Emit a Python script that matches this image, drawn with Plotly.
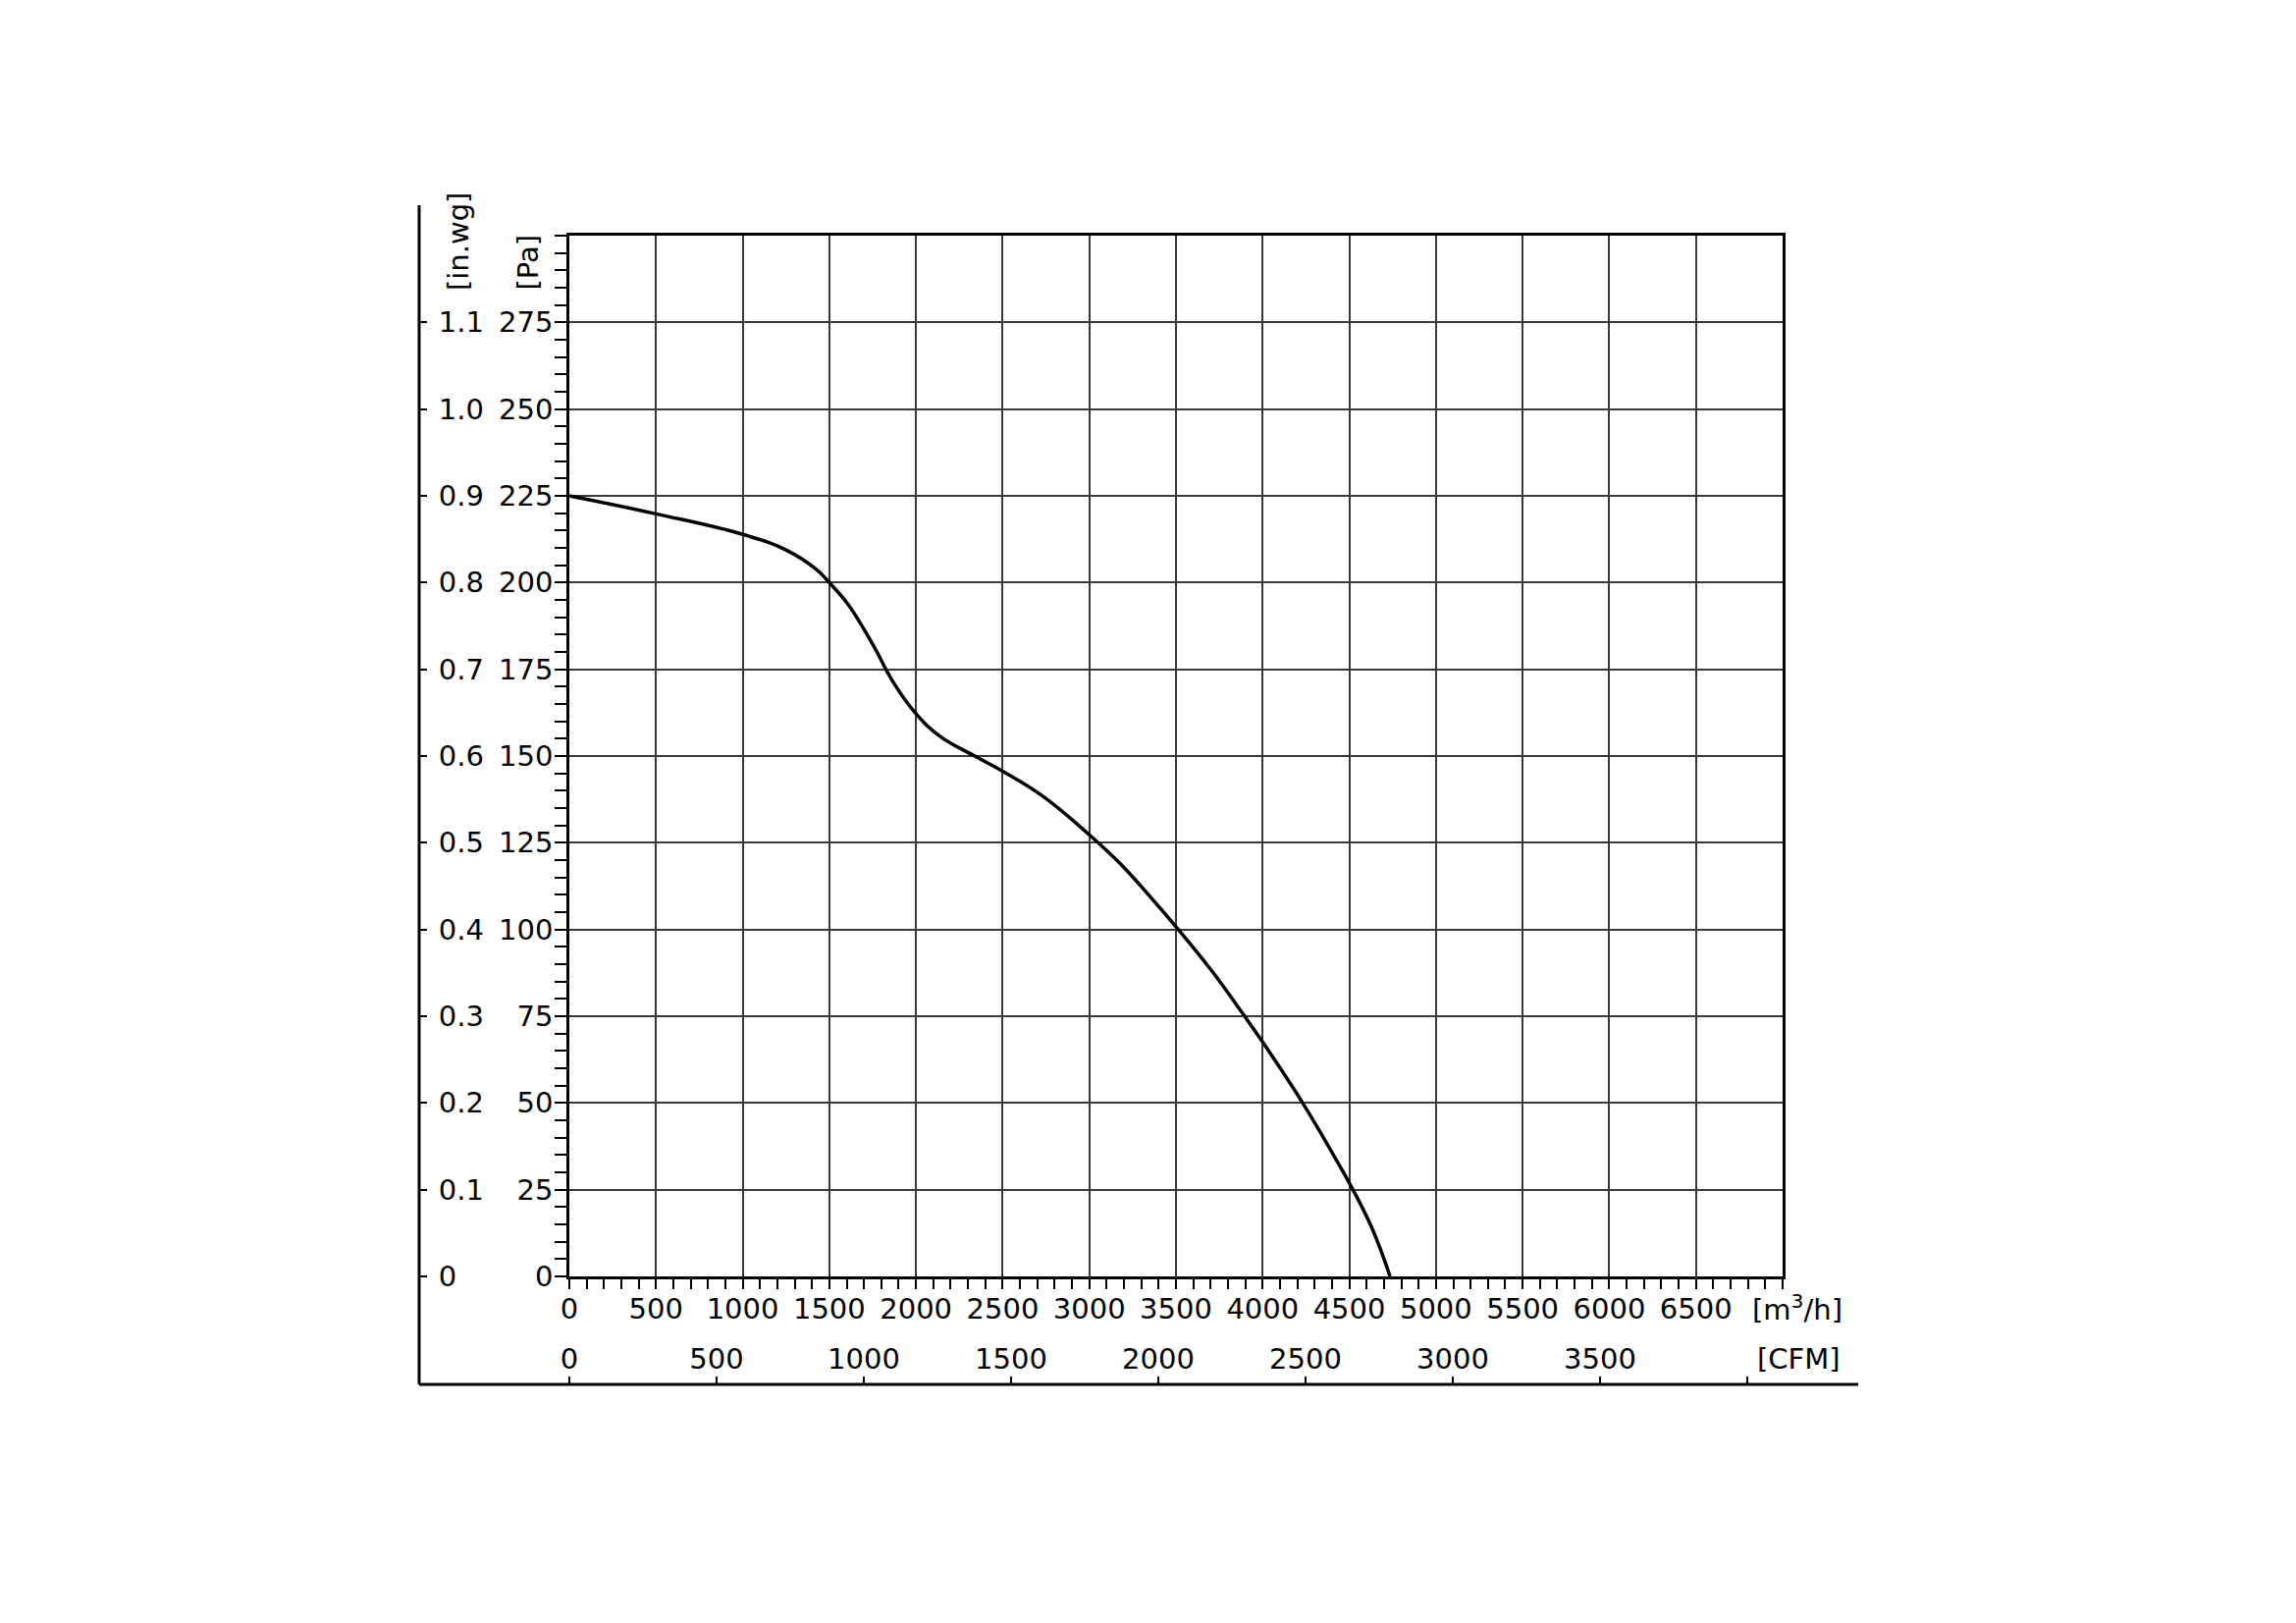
import plotly.graph_objects as go

# Kennlinie: Volumenstrom [m3/h] und statischer Druck [Pa]
flow_m3h = [0, 500, 1000, 1250, 1425, 1500, 1610, 1750, 1870, 2000, 2140, 2347,
            2500, 2724, 3000, 3182, 3338, 3500, 3700, 3889, 4002, 4231, 4368,
            4519, 4632, 4735]
pressure_pa = [225, 219.8, 213.9, 209.4, 203.8, 200, 193.6, 182.2, 171.2, 162.2,
               155.6, 149.8, 145.6, 138.7, 127.3, 118.8, 110.2, 100.8, 88.5,
               75.5, 67.4, 50, 38.5, 25.2, 13.8, 0]

# Achsen-Ticks
m3h_ticks = list(range(0, 7001, 500))
m3h_labels = [str(v) for v in m3h_ticks[:-1]] + [""]
pa_ticks = list(range(0, 276, 25))
inwg_ticks = [0, 0.1, 0.2, 0.3, 0.4, 0.5, 0.6, 0.7, 0.8, 0.9, 1.0, 1.1]
inwg_labels = ["0", "0.1", "0.2", "0.3", "0.4", "0.5", "0.6", "0.7", "0.8", "0.9", "1.0", "1.1"]
cfm_ticks = [0, 500, 1000, 1500, 2000, 2500, 3000, 3500, 4000]
cfm_labels = ["0", "500", "1000", "1500", "2000", "2500", "3000", "3500", ""]

PA_PER_INWG = 250.0
M3H_PER_CFM = 1.699

W, H = 2339, 1653
OFF = 8  # body margin of the html page
# Plotbereich in Seiten-Pixeln
L, R, T, B = 400, 1900, 200, 1440
PX0, PX1 = 580, 1816   # Diagramm links/rechts
PY0, PY1 = 240, 1300   # Diagramm oben/unten


def px(x):
    return (x - L) / (R - L)


def py(y):
    return (B - y) / (B - T)


FONT = "DejaVu Sans"
FS = 29

fig = go.Figure()

fig.add_trace(go.Scatter(
    x=flow_m3h, y=pressure_pa, mode="lines",
    line=dict(color="black", width=3.5, shape="spline", smoothing=1.2),
    showlegend=False, hoverinfo="skip"
))

# unsichtbare Traces, damit die Zusatzachsen gezeichnet werden
fig.add_trace(go.Scatter(x=[0], y=[0], xaxis="x2", yaxis="y", mode="markers",
                         marker=dict(opacity=0), showlegend=False, hoverinfo="skip"))
fig.add_trace(go.Scatter(x=[0], y=[0], xaxis="x", yaxis="y2", mode="markers",
                         marker=dict(opacity=0), showlegend=False, hoverinfo="skip"))

fig.update_layout(
    width=W, height=H,
    margin=dict(l=L - OFF, r=W - (R - OFF), t=T - OFF, b=H - (B - OFF), pad=0),
    paper_bgcolor="white", plot_bgcolor="white",
    font=dict(family=FONT, size=FS, color="black"),
    xaxis=dict(
        domain=[px(PX0), px(PX1)], range=[0, 7000], anchor="y",
        tickvals=m3h_ticks, ticktext=m3h_labels,
        ticks="outside", ticklen=10, tickwidth=2, tickcolor="black",
        minor=dict(dtick=100, ticks="outside", ticklen=10, tickwidth=2, tickcolor="black"),
        showgrid=True, gridcolor="#3a3a3a", gridwidth=1.5,
        showline=True, linecolor="black", linewidth=2.5, mirror=True,
        zeroline=False, ticklabelstandoff=-5,
        tickfont=dict(color="black"),
    ),
    yaxis=dict(
        domain=[py(PY1), py(PY0)], range=[0, 300], anchor="x",
        tickvals=pa_ticks,
        ticks="outside", ticklen=12, tickwidth=2, tickcolor="black",
        minor=dict(dtick=5, ticks="outside", ticklen=12, tickwidth=2, tickcolor="black"),
        showgrid=True, gridcolor="#3a3a3a", gridwidth=1.5,
        showline=True, linecolor="black", linewidth=2.5, mirror=True,
        zeroline=False, ticklabelstandoff=-4,
        tickfont=dict(color="black"),
    ),
    yaxis2=dict(
        overlaying="y", anchor="free", position=px(427), side="right",
        range=[0, 300 / PA_PER_INWG],
        tickvals=inwg_ticks, ticktext=inwg_labels,
        ticks="outside", ticklen=7, tickwidth=2, tickcolor="black",
        showgrid=False, showline=False, zeroline=False, ticklabelstandoff=6,
        tickfont=dict(color="black"),
    ),
    xaxis2=dict(
        overlaying="x", anchor="free", position=py(1409), side="top",
        range=[0, 7000 / M3H_PER_CFM],
        tickvals=cfm_ticks, ticktext=cfm_labels,
        ticks="outside", ticklen=7, tickwidth=2, tickcolor="black",
        showgrid=False, showline=False, zeroline=False, ticklabelstandoff=-4,
        tickfont=dict(color="black"),
    ),
    shapes=[
        dict(type="line", xref="paper", yref="paper", x0=px(427), x1=px(427),
             y0=py(209), y1=py(1410), line=dict(color="black", width=3)),
        dict(type="line", xref="paper", yref="paper", x0=px(427), x1=px(1893),
             y0=py(1410), y1=py(1410), line=dict(color="black", width=3)),
    ],
    annotations=[
        dict(text="[in.wg]", xref="paper", yref="paper", x=px(467), y=py(298),
             xanchor="center", yanchor="bottom", textangle=-90, showarrow=False,
             font=dict(size=FS)),
        dict(text="[Pa]", xref="paper", yref="paper", x=px(538), y=py(298),
             xanchor="center", yanchor="bottom", textangle=-90, showarrow=False,
             font=dict(size=FS)),
        dict(text="[m<sup>3</sup>/h]", xref="paper", yref="paper", x=px(1831), y=py(1332),
             xanchor="center", yanchor="middle", showarrow=False,
             font=dict(size=FS)),
        dict(text="[CFM]", xref="paper", yref="paper", x=px(1832), y=py(1384),
             xanchor="center", yanchor="middle", showarrow=False,
             font=dict(size=FS)),
    ],
)

fig.write_html("out.html")
